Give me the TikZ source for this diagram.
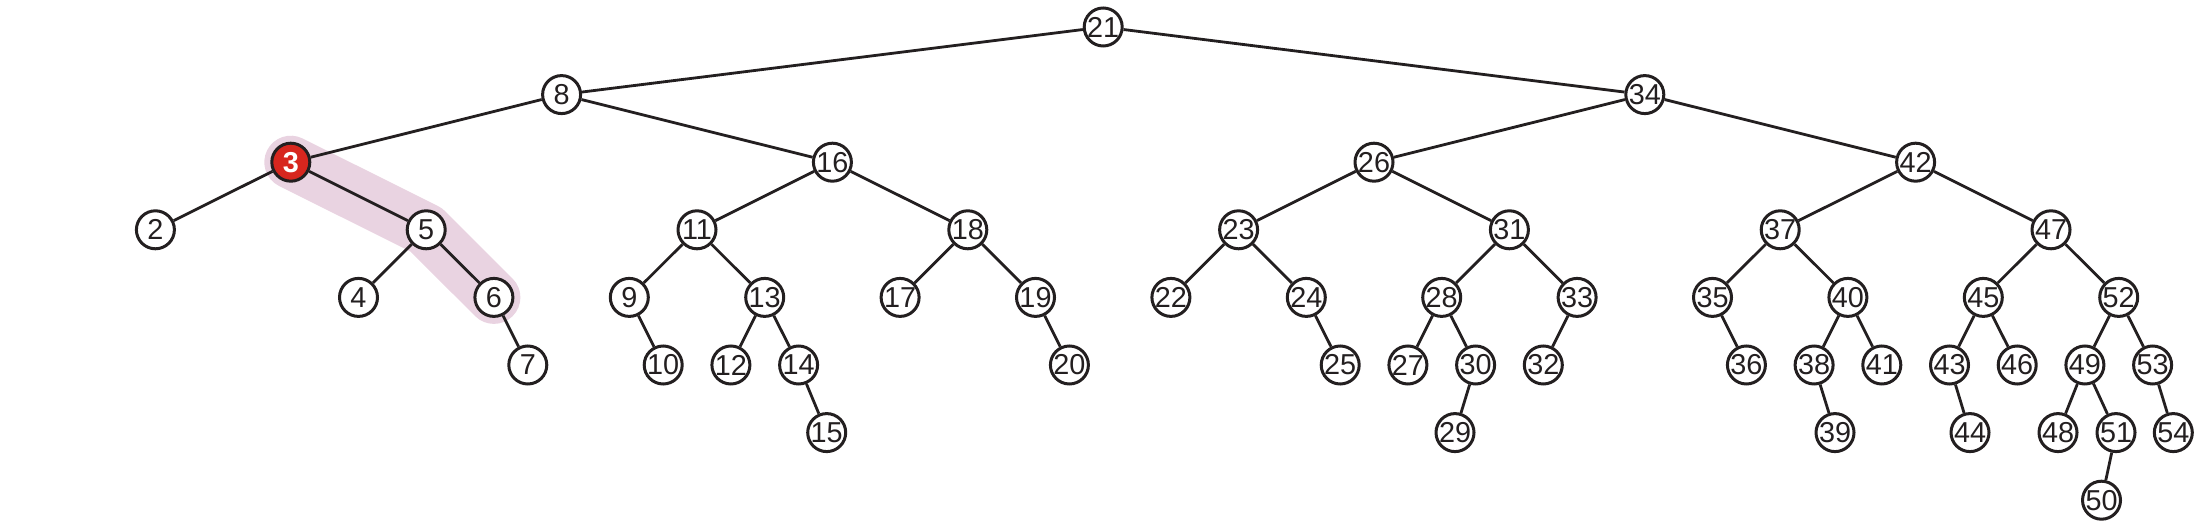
\documentclass[tikz,border=0pt]{standalone}
\usepackage{fontspec}
\setmainfont{Liberation Sans}
\usetikzlibrary{backgrounds}
\definecolor{ink}{RGB}{35,31,32}
\definecolor{hlred}{RGB}{215,38,30}
\definecolor{band}{RGB}{233,211,225}
\tikzset{
  nd/.style={circle, draw=ink, line width=1.5pt, fill=white, minimum size=19pt,
    inner sep=0pt, text=ink, font=\fontsize{14.4}{16}\selectfont},
  hot/.style={nd, fill=hlred, text=white, font=\fontsize{14.4}{16}\selectfont\bfseries},
  edge/.style={draw=ink, line width=1.4pt},
  hlband/.style={draw=band, line width=26.5pt, line cap=round, line join=round}
}
\begin{document}
\begin{tikzpicture}[x=0.5pt, y=-0.5pt]
\useasboundingbox (0,0) rectangle (2200,528);
% level 0-2
\node[nd] (n21) at (1103.2,27) {21};
\node[nd] (n8) at (561.6,94.6) {8};
\node[nd] (n34) at (1644.8,94.6) {34};
\node[hot] (n3) at (290.8,162.2) {3};
\node[nd] (n16) at (832.4,162.2) {16};
\node[nd] (n26) at (1374.0,162.2) {26};
\node[nd] (n42) at (1915.6,162.2) {42};
% level 3
\node[nd] (n2) at (155.4,229.8) {2};
\node[nd] (n5) at (426.2,229.8) {5};
\node[nd] (n11) at (697.0,229.8) {11};
\node[nd] (n18) at (967.8,229.8) {18};
\node[nd] (n23) at (1238.6,229.8) {23};
\node[nd] (n31) at (1509.4,229.8) {31};
\node[nd] (n37) at (1780.2,229.8) {37};
\node[nd] (n47) at (2051.0,229.8) {47};
% level 4
\node[nd] (n4) at (358.5,297.4) {4};
\node[nd] (n6) at (493.9,297.4) {6};
\node[nd] (n9) at (629.3,297.4) {9};
\node[nd] (n13) at (764.7,297.4) {13};
\node[nd] (n17) at (900.1,297.4) {17};
\node[nd] (n19) at (1035.5,297.4) {19};
\node[nd] (n22) at (1170.9,297.4) {22};
\node[nd] (n24) at (1306.3,297.4) {24};
\node[nd] (n28) at (1441.7,297.4) {28};
\node[nd] (n33) at (1577.1,297.4) {33};
\node[nd] (n35) at (1712.5,297.4) {35};
\node[nd] (n40) at (1847.9,297.4) {40};
\node[nd] (n45) at (1983.3,297.4) {45};
\node[nd] (n52) at (2118.7,297.4) {52};
% level 5
\node[nd] (n7) at (527.8,365) {7};
\node[nd] (n10) at (663.2,365) {10};
\node[nd] (n12) at (730.9,365) {12};
\node[nd] (n14) at (798.6,365) {14};
\node[nd] (n20) at (1069.4,365) {20};
\node[nd] (n25) at (1340.2,365) {25};
\node[nd] (n27) at (1407.9,365) {27};
\node[nd] (n30) at (1475.6,365) {30};
\node[nd] (n32) at (1543.3,365) {32};
\node[nd] (n36) at (1746.4,365) {36};
\node[nd] (n38) at (1814.1,365) {38};
\node[nd] (n41) at (1881.8,365) {41};
\node[nd] (n43) at (1949.5,365) {43};
\node[nd] (n46) at (2017.2,365) {46};
\node[nd] (n49) at (2084.9,365) {49};
\node[nd] (n53) at (2152.6,365) {53};
% level 6
\node[nd] (n15) at (826.7,432.6) {15};
\node[nd] (n29) at (1455,432.6) {29};
\node[nd] (n39) at (1835,432.6) {39};
\node[nd] (n44) at (1970,432.6) {44};
\node[nd] (n48) at (2058,432.6) {48};
\node[nd] (n51) at (2116,432.6) {51};
\node[nd] (n54) at (2173.3,432.6) {54};
% level 7
\node[nd] (n50) at (2101.5,500.2) {50};
% edges
\foreach \a/\b in {21/8,21/34,8/3,8/16,3/2,3/5,5/4,5/6,6/7,16/11,16/18,11/9,11/13,9/10,13/12,13/14,14/15,18/17,18/19,19/20,34/26,34/42,26/23,26/31,23/22,23/24,24/25,31/28,31/33,28/27,28/30,30/29,33/32,42/37,42/47,37/35,37/40,35/36,40/38,40/41,38/39,47/45,47/52,45/43,45/46,43/44,52/49,52/53,49/48,49/51,51/50,53/54}
  \draw[edge] (n\a) -- (n\b);
\begin{pgfonlayer}{background}
\draw[hlband] (n3.center) -- (n5.center) -- (n6.center);
\end{pgfonlayer}
\end{tikzpicture}
\end{document}
